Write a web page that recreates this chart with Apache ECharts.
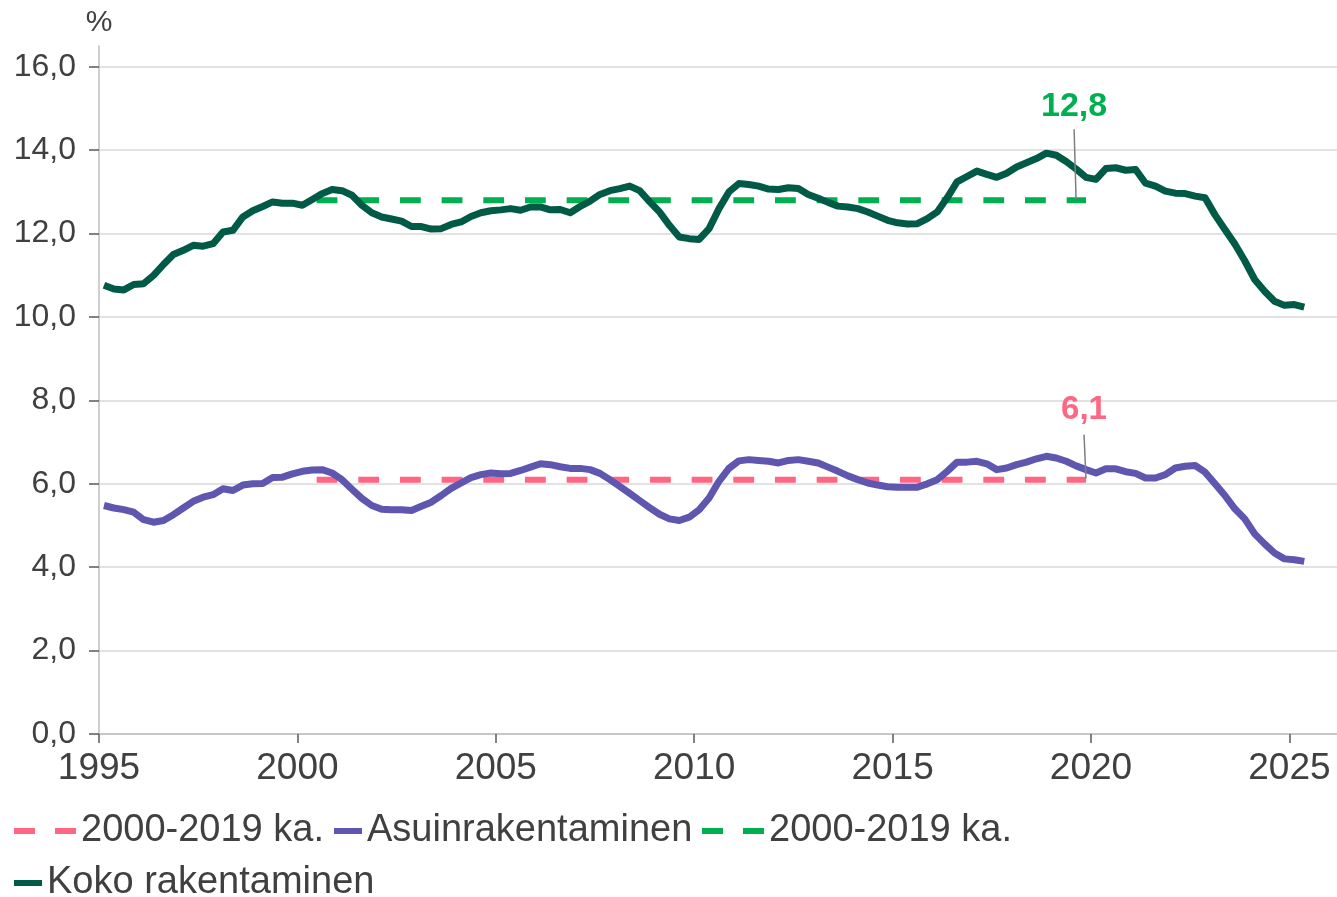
<!DOCTYPE html>
<html><head><meta charset="utf-8">
<script src="https://cdn.jsdelivr.net/npm/echarts@6/dist/echarts.min.js"></script>
<style>html,body{margin:0;padding:0;background:#fff}#c{width:1337px;height:897px}</style>
</head><body><div id="c"></div>
<script>
// Quarterly data, first point = 1995Q1
const firstYear = 1995;
const kokoRakentaminen = [
 10.76,10.67,10.65,10.78, 10.80,11.00,11.26,11.50, 11.60,11.72,11.70,11.76,
 12.04,12.08,12.40,12.55, 12.65,12.76,12.73,12.73, 12.68,12.82,12.96,13.06,
 13.03,12.92,12.68,12.50, 12.40,12.35,12.30,12.17, 12.17,12.11,12.12,12.22,
 12.28,12.41,12.50,12.55, 12.57,12.60,12.56,12.64, 12.64,12.57,12.58,12.50,
 12.65,12.78,12.94,13.03, 13.08,13.14,13.03,12.77, 12.52,12.20,11.92,11.88,
 11.86,12.12,12.60,13.00, 13.20,13.18,13.14,13.07, 13.06,13.10,13.08,12.94,
 12.85,12.75,12.66,12.64, 12.60,12.52,12.42,12.32, 12.26,12.23,12.24,12.36,
 12.52,12.86,13.24,13.37, 13.50,13.42,13.35,13.45, 13.60,13.70,13.80,13.93,
 13.88,13.73,13.55,13.35, 13.30,13.56,13.58,13.52, 13.54,13.21,13.14,13.02,
 12.97,12.96,12.90,12.86, 12.45,12.10,11.75,11.35, 10.90,10.62,10.38,10.28,
 10.30,10.24
];
const asuinrakentaminen = [
 5.48,5.42,5.38,5.32, 5.14,5.08,5.12,5.26, 5.42,5.58,5.68,5.74,
 5.88,5.84,5.97,6.00, 6.01,6.15,6.16,6.24, 6.30,6.33,6.34,6.26,
 6.10,5.87,5.65,5.48, 5.39,5.38,5.38,5.36, 5.46,5.56,5.72,5.89,
 6.02,6.15,6.22,6.26, 6.24,6.25,6.32,6.40, 6.48,6.46,6.41,6.37,
 6.37,6.34,6.25,6.10, 5.94,5.77,5.60,5.43, 5.27,5.16,5.12,5.20,
 5.38,5.66,6.06,6.37, 6.55,6.58,6.56,6.54, 6.50,6.56,6.58,6.54,
 6.50,6.40,6.30,6.19, 6.10,6.02,5.97,5.93, 5.92,5.92,5.92,6.00,
 6.10,6.30,6.52,6.52, 6.54,6.48,6.34,6.38, 6.46,6.52,6.60,6.66,
 6.62,6.54,6.43,6.34, 6.26,6.36,6.36,6.29, 6.25,6.14,6.14,6.22,
 6.38,6.42,6.44,6.28, 6.00,5.72,5.40,5.16, 4.80,4.56,4.34,4.20,
 4.18,4.14
];
const kokoAvg = 12.8;      // 2000-2019 average
const asuinAvg = 6.1;      // 2000-2019 average
const avgFromYear = 2000, avgToYear = 2019;
const yTicks = [0, 2, 4, 6, 8, 10, 12, 14, 16];
const xTicks = [1995, 2000, 2005, 2010, 2015, 2020, 2025];
const avgLabel = '2000-2019 ka.';

const C_KOKO = '#005a46', C_ASUIN = '#5f56b0', C_KOKO_AVG = '#00b050', C_ASUIN_AVG = '#ff6683';
const TXT = '#404040';
const FONT = "'Liberation Sans', Arial, sans-serif";

function qTime(i) { return firstYear + 0.125 + 0.25 * i; }   // mid-quarter
function qYear(i) { return firstYear + Math.floor(i / 4); }
const fmt1 = v => v.toFixed(1).replace('.', ',');

const kokoData = kokoRakentaminen.map((v, i) => [qTime(i), v]);
const asuinData = asuinrakentaminen.map((v, i) => [qTime(i), v]);
const avgIdx = kokoRakentaminen.map((v, i) => i).filter(i => qYear(i) >= avgFromYear && qYear(i) <= avgToYear);
const kokoAvgData = avgIdx.map(i => [qTime(i), kokoAvg]);
const asuinAvgData = avgIdx.map(i => [qTime(i), asuinAvg]);
const lastAvg = avgIdx[avgIdx.length - 1];

const dashIcon = 'path://M0,0h21v6h-21zM41,0h21v6h-21z';
const legendNames = { avgAsuin: avgLabel, avgKoko: avgLabel };
function mkLegend(name, left, top, icon, w) {
  return {
    left: left, top: top, padding: 0, itemWidth: w, itemHeight: 6, selectedMode: false,
    data: [{ name: name, icon: icon }],
    itemStyle: { borderWidth: 0 },
    formatter: n => legendNames[n] || n,
    textStyle: { fontSize: 38, color: TXT, fontFamily: FONT }
  };
}

const chart = echarts.init(document.getElementById('c'), null, { renderer: 'canvas' });
chart.setOption({
  animation: false,
  backgroundColor: '#ffffff',
  textStyle: { fontFamily: FONT },
  grid: { left: 99, right: 0, top: 46, bottom: 163, containLabel: false },
  legend: [
    mkLegend('avgAsuin', 14, 812, dashIcon, 62),
    mkLegend('Asuinrakentaminen', 334, 812, 'rect', 28),
    mkLegend('avgKoko', 702, 812, dashIcon, 62),
    mkLegend('Koko rakentaminen', 14, 864, 'rect', 28)
  ],
  xAxis: {
    type: 'value', min: 1995, max: 2026.2, interval: 5,
    axisLine: { show: true, lineStyle: { color: '#bfbfbf', width: 1.5 } },
    axisTick: { show: true, length: 9, customValues: xTicks, lineStyle: { color: '#595959', width: 1.5 } },
    axisLabel: { customValues: xTicks, fontSize: 37, margin: 16, color: TXT, fontFamily: FONT, formatter: v => String(v) },
    splitLine: { show: false }
  },
  yAxis: {
    type: 'value', min: 0, max: 16.5, interval: 2,
    name: '%', nameLocation: 'end', nameGap: 8,
    nameTextStyle: { fontSize: 30, color: TXT, fontFamily: FONT, align: 'center' },
    axisLine: { show: true, lineStyle: { color: '#bfbfbf', width: 1.5 } },
    axisTick: { show: true, length: 10, customValues: yTicks, lineStyle: { color: '#595959', width: 1.5 } },
    axisLabel: { customValues: yTicks, fontSize: 32, margin: 23, color: TXT, fontFamily: FONT, formatter: v => fmt1(v) },
    splitLine: { show: true, lineStyle: { color: '#d9d9d9', width: 1.5 } }
  },
  series: [
    { type: 'line', name: 'avgAsuin', data: asuinAvgData, showSymbol: false, silent: true,
      itemStyle: { color: C_ASUIN_AVG },
      lineStyle: { color: C_ASUIN_AVG, width: 6, type: [20.8, 20.87], dashOffset: 27.4, cap: 'butt' } },
    { type: 'line', name: 'Asuinrakentaminen', data: asuinData, showSymbol: false, silent: true,
      itemStyle: { color: C_ASUIN },
      lineStyle: { color: C_ASUIN, width: 7, join: 'round', cap: 'butt' } },
    { type: 'line', name: 'avgKoko', data: kokoAvgData, showSymbol: false, silent: true,
      itemStyle: { color: C_KOKO_AVG },
      lineStyle: { color: C_KOKO_AVG, width: 6, type: [20.8, 20.87], dashOffset: 27.4, cap: 'butt' } },
    { type: 'line', name: 'Koko rakentaminen', data: kokoData, showSymbol: false, silent: true,
      itemStyle: { color: C_KOKO },
      lineStyle: { color: C_KOKO, width: 7, join: 'round', cap: 'butt' } },
    { type: 'scatter', name: 'annKoko', data: [[qTime(lastAvg - 1), kokoAvg]], symbolSize: 2, silent: true, z: 5,
      itemStyle: { color: 'rgba(0,0,0,0)', opacity: 1 },
      label: { show: true, position: 'top', distance: 0, formatter: () => fmt1(kokoAvg), opacity: 1,
        fontSize: 34, fontWeight: 'bold', color: C_KOKO_AVG, fontFamily: FONT,
        backgroundColor: 'rgba(255,255,255,0)', padding: [0, 0, 6, 0] },
      labelLayout: { dy: -70, dx: -2 },
      labelLine: { show: true, lineStyle: { color: '#7f7f7f', width: 1.5, opacity: 1 } } },
    { type: 'scatter', name: 'annAsuin', data: [[qTime(lastAvg), asuinAvg]], symbolSize: 2, silent: true, z: 5,
      itemStyle: { color: 'rgba(0,0,0,0)', opacity: 1 },
      label: { show: true, position: 'top', distance: 0, formatter: () => fmt1(asuinAvg), opacity: 1,
        fontSize: 33, fontWeight: 'bold', color: C_ASUIN_AVG, fontFamily: FONT,
        backgroundColor: 'rgba(255,255,255,0)', padding: [0, 0, 8, 0] },
      labelLayout: { dy: -44, dx: -2 },
      labelLine: { show: true, lineStyle: { color: '#7f7f7f', width: 1.5, opacity: 1 } } }
  ]
});
</script></body></html>
